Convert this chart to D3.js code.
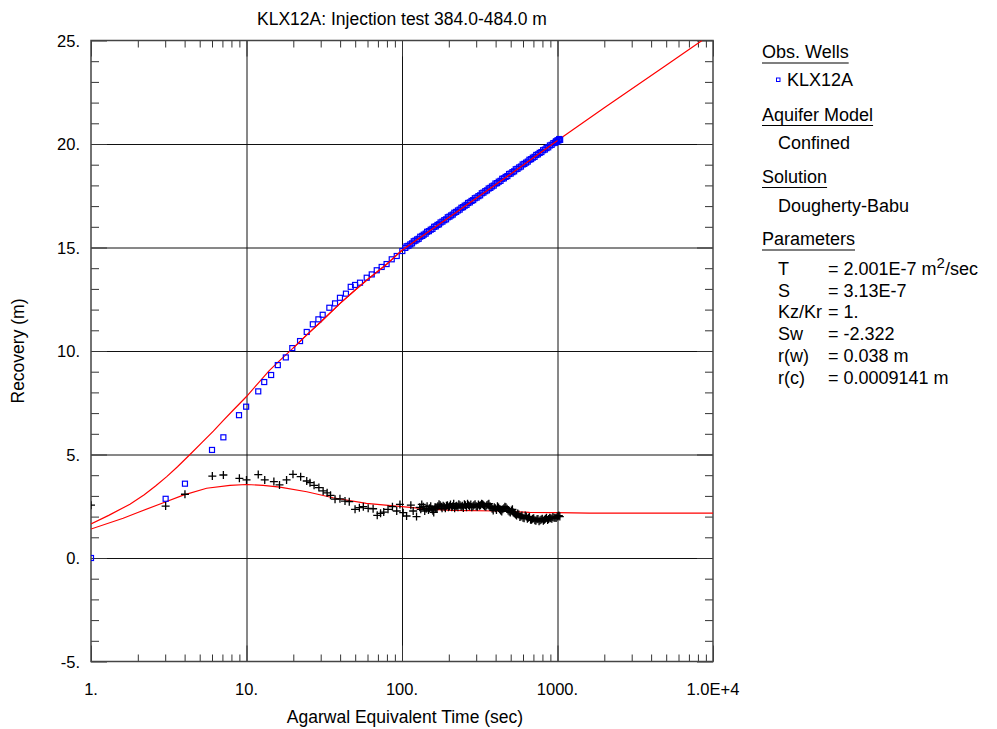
<!DOCTYPE html>
<html>
<head>
<meta charset="utf-8">
<script src="https://cdn.jsdelivr.net/npm/d3@7"></script>
<style>
  body { margin: 0; background: #fff; }
  text { font-family: "Liberation Sans", Arial, sans-serif; fill: #000; }
</style>
</head>
<body>
<div id="my_dataviz"></div>
<script>
// observed recovery (blue squares)
var obsTime = [1, 3.02, 4.02, 6.0, 7.1, 8.95, 9.95, 11.9, 13.0, 14.4, 15.9, 17.9, 19.7, 22.1, 24.4, 26.7, 29, 30.9, 34.1, 37.1, 39.9, 43.6, 46.8, 49.9, 53.7, 59.3, 63.9, 68.8, 74, 79.6, 85.9, 92.5, 100.5,
  105, 110, 116, 122, 128, 135, 142, 149, 157, 165, 173, 182, 192, 202, 212, 223, 235, 247, 260, 273, 287, 302, 318, 334, 352, 370, 389, 409, 430, 452, 476, 500, 526, 553, 582, 612, 644, 677, 712, 749, 788, 829, 872, 917, 964, 990, 1014, 1040,
  107, 113, 119, 125, 131, 138, 145, 153, 161, 169, 177, 187, 197, 207, 217, 229, 241, 253, 266, 280, 294, 310, 326, 343, 361, 379, 399, 419, 441, 464, 488, 513, 539, 567, 597, 628, 660, 694, 730, 768, 808, 850, 894, 940, 977, 1000, 1025];
var obsRecovery = [0, 2.86, 3.59, 5.22, 5.83, 6.9, 7.31, 8.05, 8.5, 8.84, 9.32, 9.69, 10.14, 10.48, 10.92, 11.29, 11.53, 11.75, 12.09, 12.3, 12.57, 12.77, 13.1, 13.19, 13.3, 13.54, 13.7, 13.9, 14.06, 14.2, 14.43, 14.59, 14.83,
  14.98, 15.08, 15.2, 15.33, 15.42, 15.56, 15.67, 15.79, 15.9, 16.02, 16.12, 16.25, 16.36, 16.49, 16.59, 16.72, 16.83, 16.95, 17.06, 17.18, 17.29, 17.41, 17.52, 17.65, 17.76, 17.88, 17.99, 18.11, 18.22, 18.34, 18.45, 18.57, 18.68, 18.8, 18.91, 19.04, 19.15, 19.27, 19.38, 19.5, 19.61, 19.73, 19.84, 19.96, 20.06, 20.1, 20.17, 20.2,
  15.06, 15.15, 15.3, 15.39, 15.52, 15.62, 15.76, 15.86, 16.0, 16.09, 16.21, 16.32, 16.46, 16.55, 16.68, 16.79, 16.92, 17.02, 17.15, 17.25, 17.38, 17.48, 17.62, 17.72, 17.85, 17.95, 18.09, 18.18, 18.32, 18.41, 18.55, 18.64, 18.78, 18.87, 19.01, 19.1, 19.24, 19.34, 19.47, 19.57, 19.7, 19.8, 19.93, 20.04, 20.13, 20.18, 20.24];

// derivative data (black crosses)
var derivTime = [1, 3.02, 4.02, 6.03, 7.1, 9.0, 10.0, 11.9, 13.1, 15.0, 16.3, 18.1, 19.9, 22.3, 24.4, 25.6, 27.2, 29.2, 31.1, 33.0, 34.7, 37.1, 39.9, 43.0, 45.8, 49.9, 53.2, 56.4, 60.6, 65.2, 69.3, 72.8, 76.3, 81.3, 86.8, 92.5, 97, 101.8, 107, 114, 118, 124,
  130, 134, 140, 145, 150, 156, 160, 165, 170, 176, 181, 187, 193, 199, 205, 212, 218, 225, 232, 240, 248, 256, 264, 272, 281, 290, 300, 310, 320, 330, 340, 351, 362, 374, 386, 398, 411, 424, 438, 452, 466, 481, 497, 513, 529, 546, 564, 582, 600, 620, 640, 660, 681, 703, 726, 749, 773, 798, 824, 850, 877, 905, 934, 964, 995, 1020,
  132, 137, 143, 148, 153, 158, 163, 168, 173, 179, 184, 190, 196, 202, 209, 215, 222, 229, 236, 244, 252, 260, 268, 277, 286, 295, 305, 315, 325, 335, 346, 357, 368, 380, 392, 405, 418, 431, 445, 459, 474, 489, 505, 521, 538, 555, 573, 591, 610, 630, 650, 671, 692, 715, 738, 761, 786, 811, 837, 864, 891, 920, 950, 980, 1008, 1035];
var derivValue = [2.55, 2.51, 3.08, 3.96, 4.01, 3.85, 3.77, 4.03, 3.77, 3.69, 3.53, 3.77, 4.04, 3.93, 3.72, 3.64, 3.51, 3.4, 3.24, 3.15, 3.03, 2.84, 2.86, 2.75, 2.72, 2.35, 2.43, 2.48, 2.4, 2.38, 2.06, 2.16, 2.22, 2.35, 2.48, 2.27, 2.59, 2.19, 2.03, 2.55, 2.27, 2.0,
  2.45, 2.59, 2.27, 2.5, 2.4, 2.35, 2.2, 2.42, 2.5, 2.55, 2.4, 2.48, 2.52, 2.45, 2.58, 2.5, 2.4, 2.52, 2.6, 2.48, 2.42, 2.55, 2.62, 2.5, 2.45, 2.55, 2.5, 2.58, 2.55, 2.6, 2.5, 2.55, 2.62, 2.45, 2.3, 2.4, 2.5, 2.35, 2.25, 2.4, 2.45, 2.3, 2.2, 2.35, 2.15, 2.05, 2.1, 2.0, 1.95, 2.05, 1.9, 1.98, 1.85, 1.92, 1.8, 1.88, 1.82, 1.9, 1.85, 1.95, 1.88, 1.92, 1.98, 1.95, 2.0, 2.05,
  2.35, 2.48, 2.38, 2.32, 2.5, 2.28, 2.45, 2.38, 2.6, 2.47, 2.52, 2.4, 2.55, 2.5, 2.45, 2.62, 2.5, 2.45, 2.55, 2.52, 2.6, 2.45, 2.55, 2.58, 2.5, 2.6, 2.48, 2.53, 2.62, 2.55, 2.48, 2.58, 2.5, 2.38, 2.45, 2.32, 2.44, 2.3, 2.36, 2.48, 2.38, 2.25, 2.3, 2.2, 2.1, 2.15, 1.98, 2.05, 1.92, 2.0, 1.95, 1.85, 1.9, 1.82, 1.87, 1.78, 1.86, 1.8, 1.9, 1.84, 1.95, 1.9, 1.95, 1.93, 2.02, 2.0];

// fitted curves (red)
var fitTime = [1, 1.3, 1.78, 2.2, 2.6, 3.07, 3.6, 4.33, 5.2, 6.12, 7.1, 8.23, 10, 11.9, 14, 16.4, 20, 25, 30, 40, 50, 60, 70, 80, 100, 200, 500, 1000, 2000, 5000, 8500];
var fitRecovery = [1.65, 2.06, 2.6, 3.06, 3.48, 3.93, 4.41, 5.0, 5.6, 6.13, 6.65, 7.15, 7.8, 8.45, 9.05, 9.55, 10.15, 10.85, 11.4, 12.3, 12.95, 13.45, 13.85, 14.2, 14.87, 16.45, 18.55, 20.17, 21.75, 23.8, 25.0];
var fitDerivTime = [1, 1.61, 2.0, 2.92, 3.92, 5.54, 7.83, 10, 12.8, 16.4, 24.4, 36, 59, 92, 150, 210, 420, 660, 1000, 1600, 10000];
var fitDerivValue = [1.4, 1.92, 2.2, 2.67, 3.04, 3.37, 3.51, 3.55, 3.51, 3.42, 3.2, 2.91, 2.64, 2.51, 2.36, 2.3, 2.27, 2.2, 2.19, 2.17, 2.17];

// tick labels
var xTicks = [1, 10, 100, 1000, 10000];
var xTickLabels = ["1.", "10.", "100.", "1000.", "1.0E+4"];
var yTicks = [-5, 0, 5, 10, 15, 20, 25];
var yTickLabels = ["-5.", "0.", "5.", "10.", "15.", "20.", "25."];

// set the dimensions and margins of the graph
var margin = {top: 40.5, left: 91};
var width = 622, height = 621;

var svg = d3.select("#my_dataviz")
  .append("svg")
  .attr("width", 997)
  .attr("height", 729);

var g = svg.append("g")
  .attr("transform", "translate(" + margin.left + "," + margin.top + ")");

var x = d3.scaleLog().domain([1, 10000]).range([0, width]);
var y = d3.scaleLinear().domain([-5, 25]).range([height, 0]);

var minorX = [];
[1, 10, 100, 1000].forEach(function(d) {
  for (var k = 2; k <= 9; k++) minorX.push(d * k);
});
var minorY = d3.range(-5, 26).filter(function(d) { return d % 5 != 0; });

svg.append("defs").append("clipPath").attr("id", "clip")
  .append("rect").attr("width", width).attr("height", height);

// grid lines
g.append("g")
  .attr("transform", "translate(0," + height + ")")
  .call(d3.axisBottom(x).tickValues([10, 100, 1000]).tickSize(-height).tickFormat(""))
  .call(function(a) { a.select(".domain").remove(); a.selectAll("line").attr("stroke", "#111"); });
g.append("g")
  .call(d3.axisLeft(y).tickValues([0, 5, 10, 15, 20]).tickSize(-width).tickFormat(""))
  .call(function(a) { a.select(".domain").remove(); a.selectAll("line").attr("stroke", "#111"); });

// minor and major ticks, inward on all four sides
function ticks(axis, tr) {
  g.append("g").attr("transform", tr).call(axis)
    .call(function(a) { a.select(".domain").remove(); a.selectAll("line").attr("stroke", "#333"); });
}
ticks(d3.axisBottom(x).tickValues(minorX).tickSize(-7).tickFormat(""), "translate(0," + height + ")");
ticks(d3.axisTop(x).tickValues(minorX).tickSize(-7).tickFormat(""), "translate(0,0)");
ticks(d3.axisLeft(y).tickValues(minorY).tickSize(-8).tickFormat(""), "translate(0,0)");
ticks(d3.axisRight(y).tickValues(minorY).tickSize(-8).tickFormat(""), "translate(" + width + ",0)");
ticks(d3.axisBottom(x).tickValues(xTicks).tickSize(-16).tickFormat(""), "translate(0," + height + ")");
ticks(d3.axisTop(x).tickValues(xTicks).tickSize(-16).tickFormat(""), "translate(0,0)");
ticks(d3.axisLeft(y).tickValues(yTicks).tickSize(-16).tickFormat(""), "translate(0,0)");
ticks(d3.axisRight(y).tickValues(yTicks).tickSize(-16).tickFormat(""), "translate(" + width + ",0)");

// frame
g.append("rect")
  .attr("width", width).attr("height", height)
  .attr("fill", "none").attr("stroke", "#444").attr("stroke-width", 1.5);

// tick labels
g.selectAll(".xlab").data(xTicks).enter().append("text")
  .attr("x", function(d) { return x(d); })
  .attr("y", height + 33)
  .attr("text-anchor", "middle")
  .style("font-size", "16.5px")
  .text(function(d, i) { return xTickLabels[i]; });
g.selectAll(".ylab").data(yTicks).enter().append("text")
  .attr("x", -11)
  .attr("y", function(d) { return y(d) + 6; })
  .attr("text-anchor", "end")
  .style("font-size", "16.5px")
  .text(function(d, i) { return yTickLabels[i]; });

// titles
svg.append("text").attr("x", 402).attr("y", 25).attr("text-anchor", "middle")
  .style("font-size", "17.5px").text("KLX12A: Injection test 384.0-484.0 m");
svg.append("text").attr("x", 405).attr("y", 723).attr("text-anchor", "middle")
  .style("font-size", "17.5px").text("Agarwal Equivalent Time (sec)");
svg.append("text").attr("transform", "translate(24,351) rotate(-90)").attr("text-anchor", "middle")
  .style("font-size", "17.5px").text("Recovery (m)");

var plot = g.append("g").attr("clip-path", "url(#clip)");

// red fitted lines
var line = d3.line().x(function(d) { return x(d[0]); }).y(function(d) { return y(d[1]); });
plot.append("path")
  .datum(fitTime.map(function(t, i) { return [t, fitRecovery[i]]; }))
  .attr("d", line).attr("fill", "none").attr("stroke", "#ff0000").attr("stroke-width", 1.2);
plot.append("path")
  .datum(fitDerivTime.map(function(t, i) { return [t, fitDerivValue[i]]; }))
  .attr("d", line).attr("fill", "none").attr("stroke", "#ff0000").attr("stroke-width", 1.2);

// crosses
plot.selectAll(".cross")
  .data(derivTime.map(function(t, i) { return [t, derivValue[i]]; }))
  .enter().append("path")
    .attr("transform", function(d) { return "translate(" + x(d[0]) + "," + y(d[1]) + ")"; })
    .attr("d", "M-4,0H4M0,-4V4")
    .attr("stroke", "#000").attr("stroke-width", 1.3);

// squares
plot.selectAll(".sq")
  .data(obsTime.map(function(t, i) { return [t, obsRecovery[i]]; }))
  .enter().append("rect")
    .attr("x", function(d) { return x(d[0]) - 2.5; })
    .attr("y", function(d) { return y(d[1]) - 2.5; })
    .attr("width", 5).attr("height", 5)
    .attr("fill", "none").attr("stroke", "#0000ff").attr("stroke-width", 1.2);

// redraw the fitted recovery line on top where the squares overlap it
plot.append("path")
  .datum(fitTime.map(function(t, i) { return [t, fitRecovery[i]]; }).filter(function(d) { return d[0] >= 20 && d[0] <= 1000; }))
  .attr("d", line).attr("fill", "none").attr("stroke", "#ff0000").attr("stroke-width", 1.2);

// legend
var lg = svg.append("g").style("font-size", "18px");
function head(txt, yy) {
  var t = lg.append("text").attr("x", 762).attr("y", yy).text(txt);
  var w = t.node().getComputedTextLength();
  lg.append("line").attr("x1", 762).attr("x2", 762 + w).attr("y1", yy + 5).attr("y2", yy + 5)
    .attr("stroke", "#000").attr("stroke-width", 1.2);
}
head("Obs. Wells", 58);
lg.append("rect").attr("x", 776.5).attr("y", 78).attr("width", 3.5).attr("height", 3.5)
  .attr("fill", "none").attr("stroke", "#0000ff").attr("stroke-width", 1);
lg.append("text").attr("x", 787).attr("y", 86).text("KLX12A");
head("Aquifer Model", 120.5);
lg.append("text").attr("x", 778).attr("y", 149).text("Confined");
head("Solution", 182.5);
lg.append("text").attr("x", 778).attr("y", 212).text("Dougherty-Babu");
head("Parameters", 245);

var paramNames = ["T", "S", "Kz/Kr", "Sw", "r(w)", "r(c)"];
var paramValues = ["= 2.001E-7 m", "= 3.13E-7", "= 1.", "= -2.322", "= 0.038 m", "= 0.0009141 m"];
paramNames.forEach(function(n, i) {
  var yy = 275 + i * 21.7;
  lg.append("text").attr("x", 778).attr("y", yy).text(n);
  var t = lg.append("text").attr("x", 828).attr("y", yy).text(paramValues[i]);
  if (i == 0) {
    t.append("tspan").attr("dy", -7).style("font-size", "15px").text("2");
    t.append("tspan").attr("dy", 7).text("/sec");
  }
});
</script>
</body>
</html>
